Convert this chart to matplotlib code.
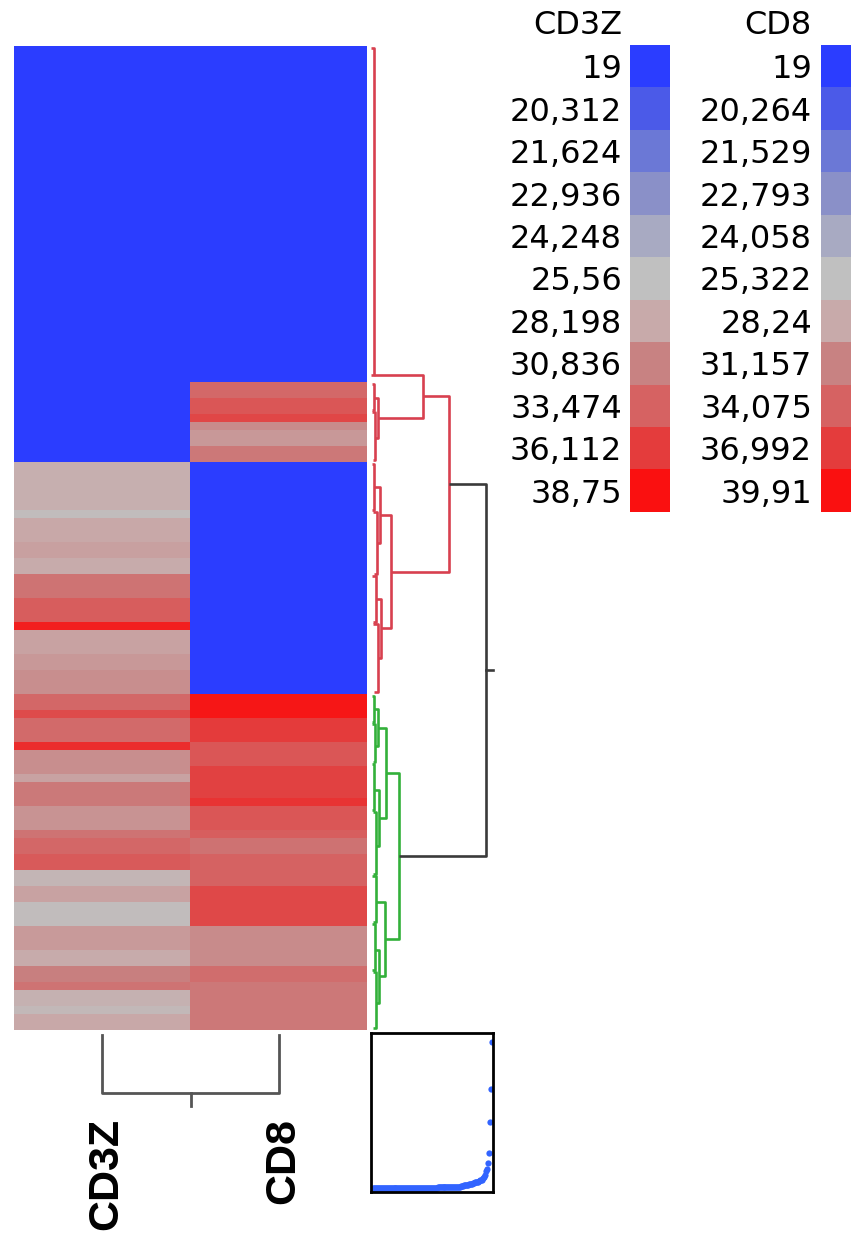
import matplotlib
matplotlib.use("Agg")
import matplotlib.pyplot as plt
import numpy as np
from matplotlib.colors import LinearSegmentedColormap, ListedColormap, Normalize

# legend levels (Ct) for each marker and the colour shown at each level
cd3z_levels = [19, 20.312, 21.624, 22.936, 24.248, 25.56, 28.198, 30.836, 33.474, 36.112, 38.75]
cd8_levels = [19, 20.264, 21.529, 22.793, 24.058, 25.322, 28.24, 31.157, 34.075, 36.992, 39.91]
level_colors = ["#2b3dff", "#4b5ae8", "#6b78d6", "#8a90c8", "#a8aac2", "#c0c0c0",
                "#c8aaaa", "#c88282", "#d66262", "#e43c3c", "#fa1010"]

# row values, stored as runs (value, number of rows), in dendrogram order
cd3z_vals = [19, 27.6, 26.0, 28.3, 28.8, 28.0, 32.0, 33.8, 37.8, 28.7, 29.4, 30.0,
             33.0, 35.0, 32.8, 37.0, 30.0, 28.7, 31.5, 29.7, 32.0, 33.0, 34.0, 26.8,
             28.7, 26.0, 29.2, 28.0, 31.0, 32.0, 27.3, 26.5, 28.3]
cd3z_rows = [52, 6, 1, 3, 2, 2, 3, 3, 1, 3, 2, 3,
             2, 1, 3, 1, 3, 1, 3, 3, 1, 2, 2, 2,
             2, 3, 3, 2, 2, 1, 2, 1, 2]
cd8_vals = [19, 33.5, 35.0, 36.2, 30.5, 29.5, 32.0, 19,
            39.5, 37.0, 35.0, 36.5, 37.5, 35.0, 34.3, 32.5, 34.0, 36.0, 30.5, 33.0, 32.0]
cd8_rows = [42, 2, 2, 1, 1, 2, 2, 29,
            3, 3, 3, 4, 1, 3, 1, 2, 4, 5, 5, 2, 6]

columns = ["CD3Z", "CD8"]

# row dendrogram links: (row_lo, row_hi, join height, child height lo, child height hi)
red_links = [
    (0.3, 41.1, 0.25, 0.0, 0.0),
    (42.3, 45.5, 0.3, 0.1, 0.1),
    (45.8, 51.7, 0.35, 0.1, 0.2),
    (44.0, 49.0, 0.6, 0.3, 0.35),
    (41.1, 46.5, 4.5, 0.25, 0.6),
    (52.2, 58.0, 0.3, 0.05, 0.1),
    (58.3, 66.0, 0.5, 0.2, 0.3),
    (55.1, 62.15, 0.8, 0.3, 0.5),
    (66.3, 72.0, 0.4, 0.1, 0.2),
    (72.3, 80.7, 0.6, 0.2, 0.3),
    (69.15, 76.5, 0.9, 0.4, 0.6),
    (58.6, 72.8, 1.75, 0.8, 0.9),
    (43.8, 65.7, 6.8, 4.5, 1.75),
]
green_links = [
    (81.2, 84.5, 0.25, 0.05, 0.1),
    (84.8, 89.5, 0.35, 0.1, 0.15),
    (82.9, 87.5, 0.6, 0.25, 0.35),
    (89.8, 95.5, 0.3, 0.1, 0.1),
    (95.8, 103.5, 0.45, 0.15, 0.2),
    (93.0, 100.0, 0.7, 0.3, 0.45),
    (85.2, 96.5, 1.3, 0.6, 0.7),
    (103.8, 109.5, 0.4, 0.1, 0.15),
    (109.8, 115.5, 0.35, 0.1, 0.1),
    (115.8, 122.8, 0.45, 0.15, 0.2),
    (113.0, 119.6, 0.7, 0.35, 0.45),
    (107.0, 116.3, 1.2, 0.4, 0.7),
    (90.85, 111.65, 2.43, 1.3, 1.2),
]
root_link = (54.75, 101.25, 10.0, 6.8, 2.43)

# sorted join distances for the distance graph
join_dist = ([0.0] * 41 + [0.03] * 25 + [0.06] * 20 +
             [0.1, 0.1, 0.12, 0.12, 0.15, 0.15, 0.18, 0.2, 0.2, 0.22, 0.25, 0.25, 0.28,
              0.3, 0.3, 0.32, 0.35, 0.35, 0.4, 0.4, 0.45, 0.45, 0.5, 0.55, 0.6, 0.6, 0.7,
              0.8, 0.9, 1.2, 1.3, 1.75, 2.43, 4.5, 6.8, 10.0])

W, H = 851, 1237


def px_axes(x0, y0, x1, y1):
    return fig.add_axes([x0 / W, 1 - y1 / H, (x1 - x0) / W, (y1 - y0) / H])


cmap = LinearSegmentedColormap.from_list(
    "ct", list(zip((np.array(cd3z_levels) - 19) / (38.75 - 19), level_colors)))
cmap8 = LinearSegmentedColormap.from_list(
    "ct8", list(zip((np.array(cd8_levels) - 19) / (39.91 - 19), level_colors)))

cd3z = np.repeat(cd3z_vals, cd3z_rows)
cd8 = np.repeat(cd8_vals, cd8_rows)
n_rows = len(cd3z)

rgb = np.stack([
    cmap(Normalize(cd3z_levels[0], cd3z_levels[-1])(cd3z)),
    cmap8(Normalize(cd8_levels[0], cd8_levels[-1])(cd8)),
], axis=1)

fig = plt.figure(figsize=(W / 100, H / 100), dpi=100)

# heatmap
ax = px_axes(14, 46, 367, 1030)
ax.imshow(rgb, aspect="auto", interpolation="nearest", extent=(0, 2, n_rows, 0))
ax.set_xlim(0, 2)
ax.set_ylim(n_rows, 0)
ax.axis("off")

# row dendrogram
axd = px_axes(371, 46, 495, 1030)
axd.set_xlim(0, 124 / 11.5)
axd.set_ylim(n_rows, 0)
axd.axis("off")


def draw_link(a, link, color):
    lo, hi, h, h_lo, h_hi = link
    a.plot([h_lo, h, h, h_hi], [lo, lo, hi, hi], color=color, lw=1.9,
           solid_capstyle="butt", clip_on=False)


for link in red_links:
    draw_link(axd, link, "#d8404f")
for link in green_links:
    draw_link(axd, link, "#33b03a")
draw_link(axd, root_link, "#3a3a3a")
mid = (root_link[0] + root_link[1]) / 2
axd.plot([root_link[2], root_link[2] + 0.6], [mid, mid], color="#3a3a3a", lw=1.9)

# column dendrogram
axc = px_axes(14, 1032, 367, 1110)
axc.set_xlim(0, 2)
axc.set_ylim(1, 0)
axc.axis("off")
axc.plot([0.5, 0.5, 1.5, 1.5], [0.04, 0.78, 0.78, 0.04], color="#555555", lw=2)
axc.plot([1.0, 1.0], [0.78, 0.95], color="#555555", lw=2)
for i, name in enumerate(columns):
    fig.text((14 + 353 * (i + 0.5) / 2 + 4) / W, 1 - 1118 / H, name, rotation=90,
             ha="center", va="top", fontsize=31, fontweight="bold",
             family="Liberation Sans", color="black")

# distance graph
axg = px_axes(371, 1033, 493, 1192)
axg.plot(np.arange(len(join_dist)), join_dist, "o", color="#3264ff", ms=4.5, mec="none")
axg.set_xlim(-2, len(join_dist) + 0.5)
axg.set_ylim(-0.25, 10.6)
axg.set_xticks([])
axg.set_yticks([])
for s in axg.spines.values():
    s.set_linewidth(2.0)
    s.set_color("black")

# colour legends
for levels, name, x0, text_right in [(cd3z_levels, "CD3Z", 630, 622), (cd8_levels, "CD8", 821, 812)]:
    axl = px_axes(x0, 45, x0 + 40, 512)
    axl.imshow(np.arange(len(levels))[:, None], cmap=ListedColormap(level_colors),
               aspect="auto", interpolation="nearest")
    axl.set_xticks([])
    axl.set_yticks(range(len(levels)))
    axl.set_yticklabels([f"{v:g}".replace(".", ",") for v in levels], fontsize=23)
    axl.tick_params(axis="y", length=0, pad=(x0 - text_right) * 0.72)
    for s in axl.spines.values():
        s.set_visible(False)
    fig.text(text_right / W, 1 - 26 / H, name, ha="right", va="center", fontsize=23)

fig.savefig("out.png", dpi=100)
